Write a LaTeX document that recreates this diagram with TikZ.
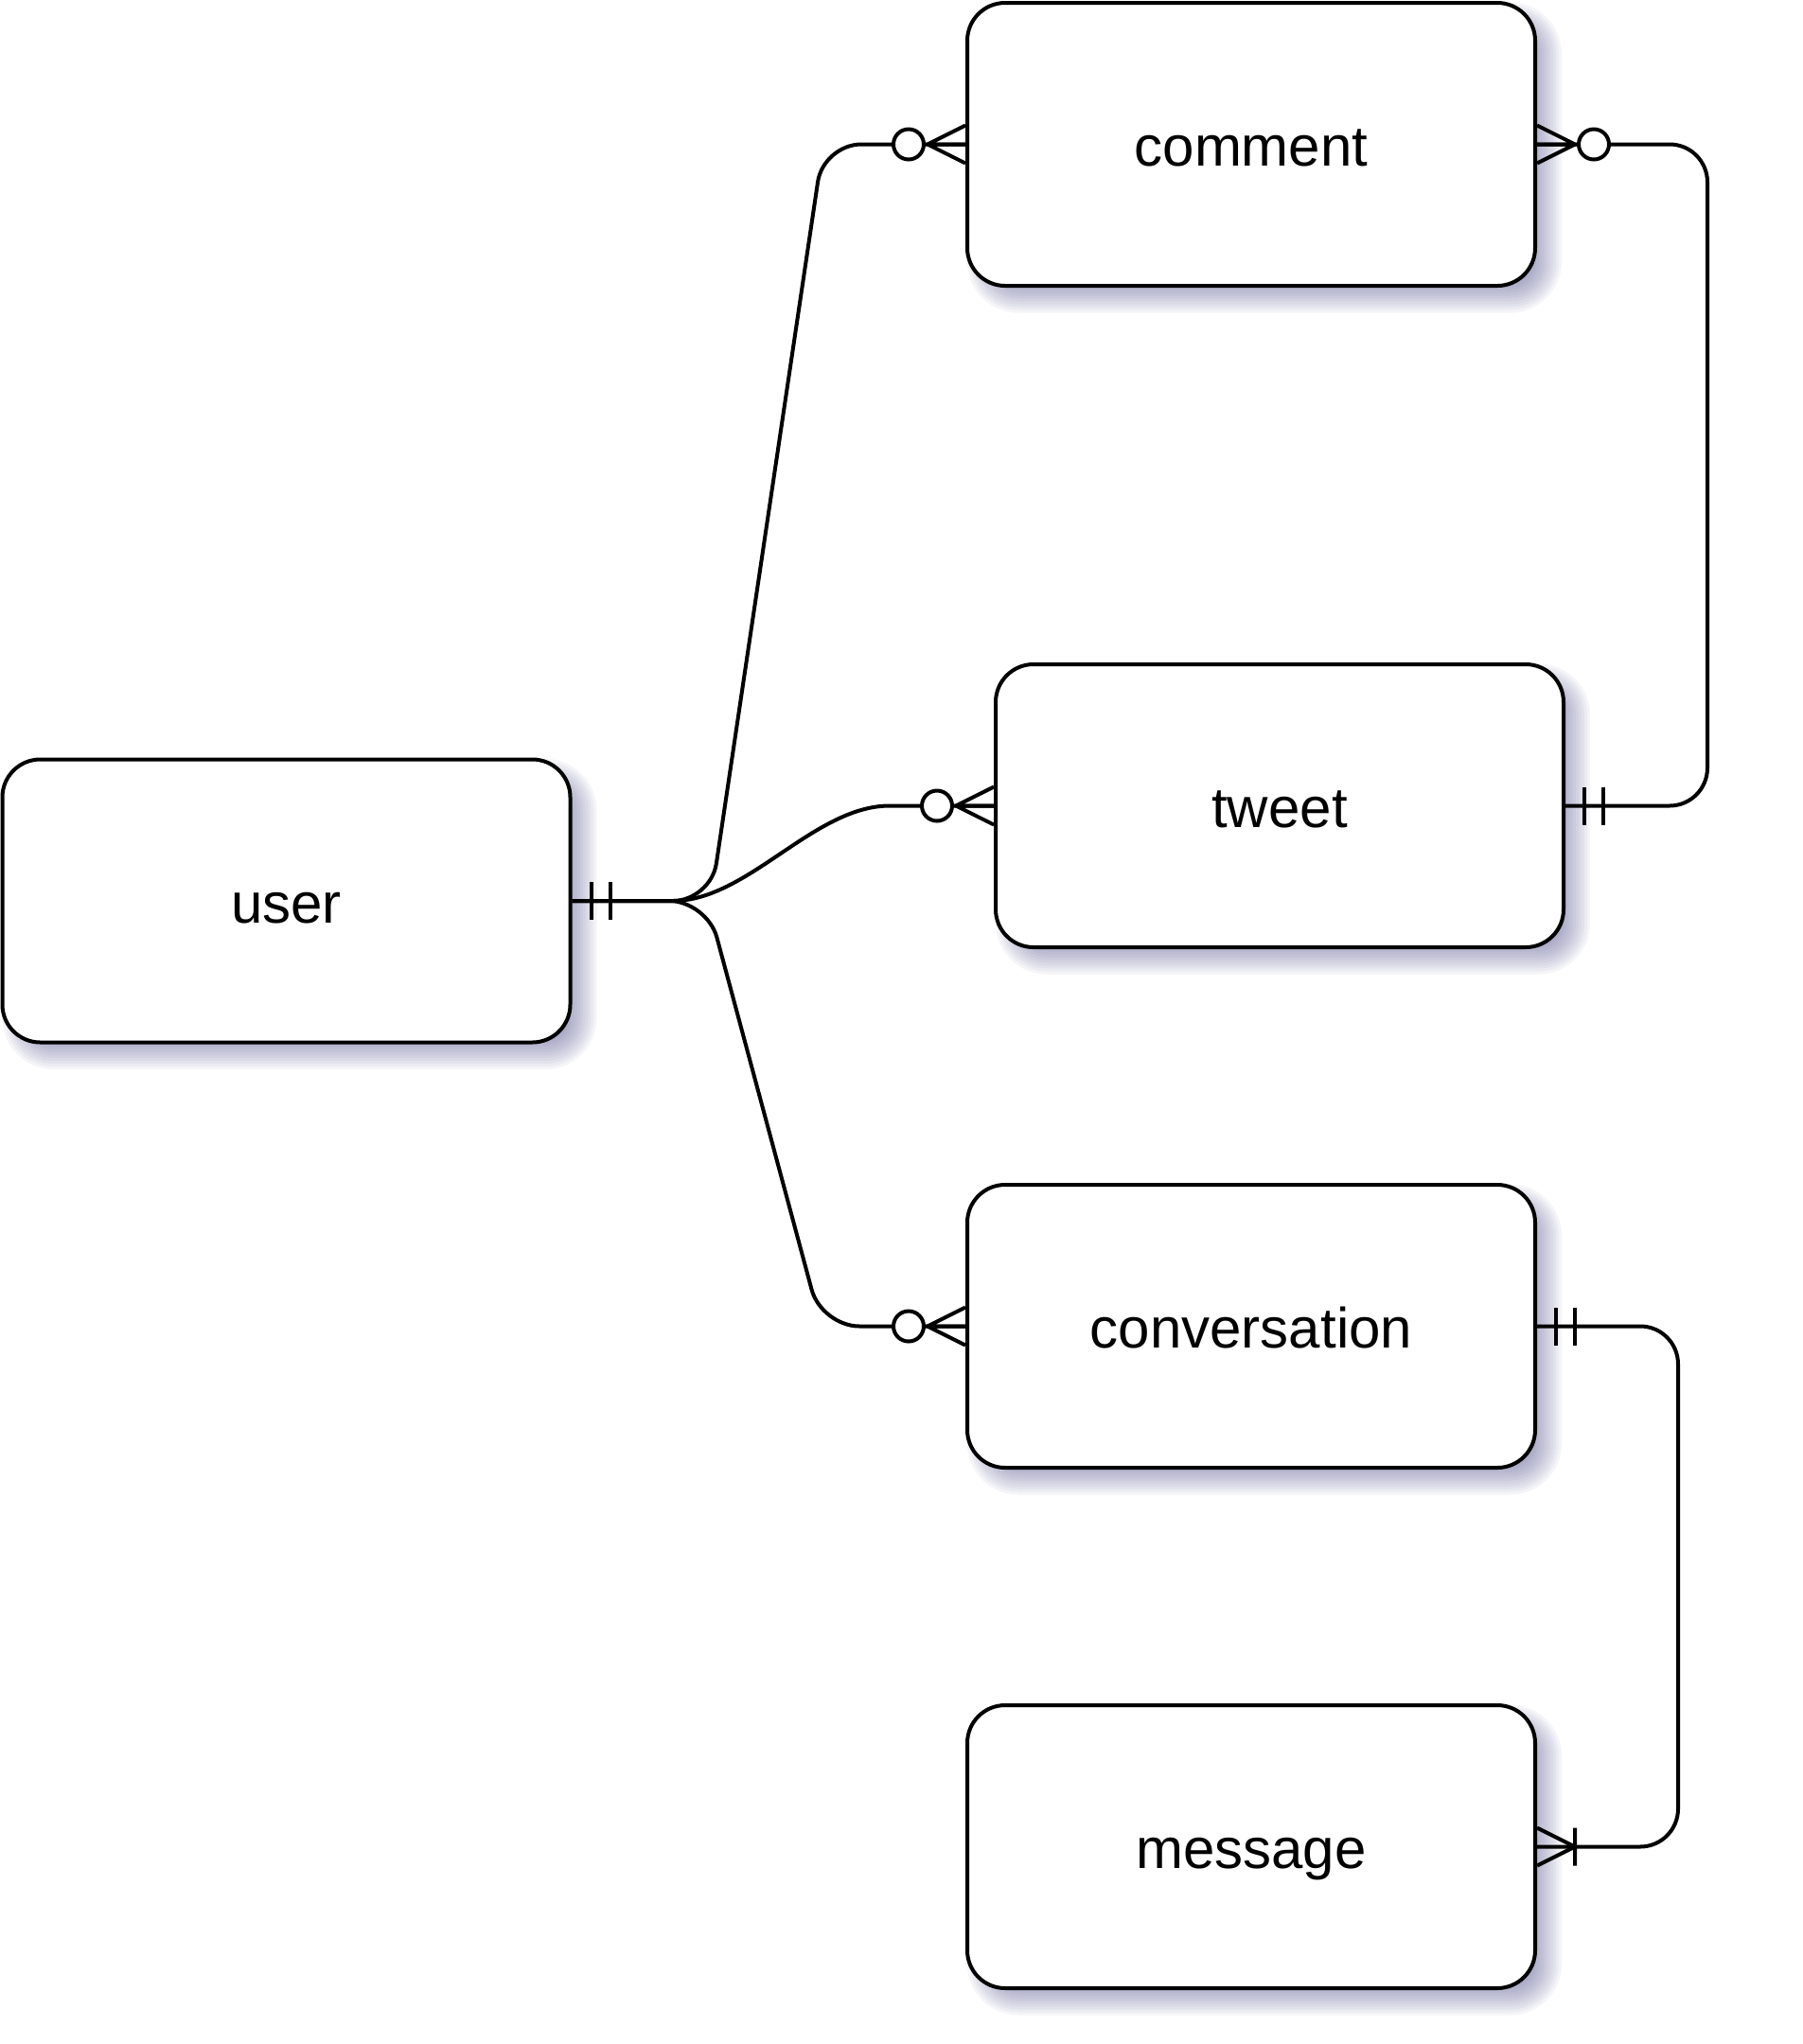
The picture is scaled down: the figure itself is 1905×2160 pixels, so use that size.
\documentclass[tikz,border=0pt]{standalone}
\usepackage{fontspec}
\setmainfont{Liberation Sans}
\usetikzlibrary{calc}
\definecolor{shadowcol}{RGB}{90,90,150}
\newcommand\erOne[2]{\draw[rel] ($(#1)+(20*#2,-20)$) -- ($(#1)+(20*#2,20)$) ($(#1)+(40*#2,-20)$) -- ($(#1)+(40*#2,20)$);}
\newcommand\erZeroMany[2]{\draw[rel] ($(#1)+(0,-20)$) -- ($(#1)+(40*#2,0)$) -- ($(#1)+(0,20)$) ($(#1)+(40*#2,0)$) -- (#1);
  \draw[rel,fill=white] ($(#1)+(60*#2,0)$) circle (8pt);}
\newcommand\erOneMany[2]{\draw[rel] ($(#1)+(0,-20)$) -- ($(#1)+(40*#2,0)$) -- ($(#1)+(0,20)$) ($(#1)+(40*#2,-20)$) -- ($(#1)+(40*#2,20)$);}
\begin{document}
\begin{tikzpicture}[x=0.5pt,y=-0.5pt,
  entity/.style={draw=black, line width=2pt, rounded corners=20pt, fill=white,
    minimum width=300pt, minimum height=149.5pt, inner sep=0pt,
    text height=23pt, text depth=0pt,
    font=\fontsize{30}{36}\selectfont},
  rel/.style={draw=black, line width=2pt},
  conn/.style={rel, rounded corners=20pt}]
\fill[white] (0,0) rectangle (1905,2160);
\useasboundingbox (0,0) rectangle (1905,2160);
% soft shadows
\foreach \cx/\cy in {1322/152.5, 1352/851.5, 302.5/952, 1322/1401.5, 1322/1951.5}{
  \foreach \s in {-16,-13,...,14}{
    \fill[shadowcol, opacity=0.06, rounded corners={(40+\s)*0.5pt}]
      (\cx-300+14-\s, \cy-150+14-\s) rectangle (\cx+300+14+\s, \cy+150+14+\s);
  }
}
% entities
\node[entity] (comment) at (1322,152.5) {comment};
\node[entity] (tweet) at (1352,851.5) {tweet};
\node[entity] (user) at (302.5,952) {user};
\node[entity] (conversation) at (1322,1401.5) {conversation};
\node[entity] (message) at (1322,1951.5) {message};
% connectors
\draw[conn] (user.east) -- (751,952) -- (870,152.5) -- (comment.west);
\draw[rel] (user.east) -- (711,952) .. controls (790,952) and (860,851.5) .. (940,851.5) -- (tweet.west);
\draw[conn] (user.east) -- (747,952) -- (868,1401.5) -- (conversation.west);
\draw[conn] (comment.east) -- ++(180,0) |- (tweet.east);
\draw[conn] (conversation.east) -- ++(149,0) |- (message.east);
% markers
\erOne{user.east}{1}
\erZeroMany{comment.west}{-1}
\erZeroMany{tweet.west}{-1}
\erZeroMany{conversation.west}{-1}
\erZeroMany{comment.east}{1}
\erOne{tweet.east}{1}
\erOne{conversation.east}{1}
\erOneMany{message.east}{1}
\end{tikzpicture}
\end{document}
